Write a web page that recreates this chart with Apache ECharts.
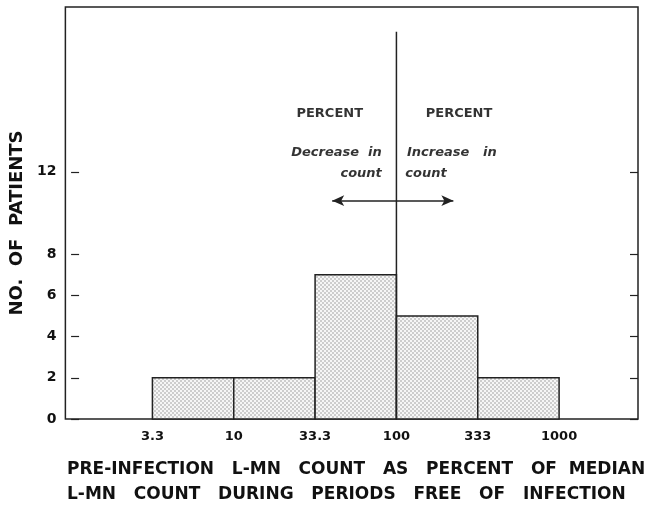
<!DOCTYPE html>
<html>
<head>
<meta charset="utf-8">
<script src="https://cdn.jsdelivr.net/npm/echarts@6/dist/echarts.min.js"></script>
<style>
  html, body { margin: 0; padding: 0; background: #fff; }
  #chart { width: 661px; height: 508px; }
</style>
</head>
<body>
<div id="chart"></div>
<script>
// bin edges on a log scale, shown as positions 1..6
const edgeLabels = ['3.3', '10', '33.3', '100', '333', '1000'];
const edgePos = [1, 2, 3, 4, 5, 6];
const counts = [2, 2, 7, 5, 2];
const yTicks = [0, 2, 4, 6, 8, 12];
// divider at the median (100) and the arrow across it
const divider = [[4, 0], [4, 18.8]];
const arrow = [[3.21, 10.6], [4.70, 10.6]];
const notes = [
  { x: 3.18, y: 14.8, text: 'PERCENT', align: 'center', italic: false },
  { x: 4.77, y: 14.8, text: 'PERCENT', align: 'center', italic: false },
  { x: 3.82, y: 12.95, text: 'Decrease  in', align: 'right', italic: true },
  { x: 3.82, y: 11.9, text: 'count', align: 'right', italic: true },
  { x: 4.13, y: 12.95, text: 'Increase   in', align: 'left', italic: true },
  { x: 4.11, y: 11.9, text: 'count', align: 'left', italic: true }
];

const bins = counts.map((c, i) => [edgePos[i], edgePos[i + 1], c]);

// dotted fill for the bars
const pat = document.createElement('canvas');
pat.width = 4; pat.height = 4;
const pc = pat.getContext('2d');
pc.fillStyle = '#f6f6f6';
pc.fillRect(0, 0, 4, 4);
pc.fillStyle = '#9a9a9a';
pc.beginPath(); pc.arc(1, 1, 0.8, 0, Math.PI * 2); pc.fill();
pc.beginPath(); pc.arc(3, 3, 0.8, 0, Math.PI * 2); pc.fill();

const chart = echarts.init(document.getElementById('chart'));
const font = 'DejaVu Sans';

chart.setOption({
  animation: false,
  grid: { left: 65, right: 23, top: 7, bottom: 89, show: true, borderColor: '#222', borderWidth: 1.5 },
  xAxis: {
    type: 'value', min: -0.07, max: 6.97,
    axisLine: { show: false },
    axisTick: { show: false },
    splitLine: { show: false },
    axisLabel: {
      customValues: edgePos,
      formatter: v => edgeLabels[edgePos.indexOf(v)],
      color: '#111', fontFamily: font, fontWeight: 'bold', fontSize: 13, margin: 11
    }
  },
  yAxis: [{
    type: 'value', min: 0, max: 20,
    name: 'NO.  OF  PATIENTS', nameLocation: 'middle', nameGap: 38,
    nameTextStyle: { color: '#111', fontFamily: font, fontWeight: 'bold', fontSize: 18, padding: [0, 20, 0, 0] },
    axisLine: { show: false },
    splitLine: { show: false },
    axisTick: { inside: true, length: 8, customValues: yTicks, lineStyle: { color: '#222', width: 1.2 } },
    axisLabel: { customValues: yTicks, color: '#111', fontFamily: font, fontWeight: 'bold', fontSize: 14, margin: 9 }
  }, {
    type: 'value', min: 0, max: 20, position: 'right',
    axisLine: { show: false },
    splitLine: { show: false },
    axisTick: { inside: true, length: 8, customValues: yTicks, lineStyle: { color: '#222', width: 1.2 } },
    axisLabel: { show: false }
  }],
  graphic: [{
    type: 'text', left: 67, top: 457,
    style: {
      text: 'PRE-INFECTION   L-MN   COUNT   AS   PERCENT   OF  MEDIAN\nL-MN   COUNT   DURING   PERIODS   FREE   OF   INFECTION',
      fill: '#111', font: 'bold 17px "DejaVu Sans"', lineHeight: 25
    }
  }],
  series: [{
    type: 'custom',
    data: bins,
    renderItem: (params, api) => {
      const p0 = api.coord([api.value(0), 0]);
      const p1 = api.coord([api.value(1), api.value(2)]);
      return {
        type: 'rect',
        shape: { x: p0[0], y: p1[1], width: p1[0] - p0[0], height: p0[1] - p1[1] },
        style: { fill: { image: pat, repeat: 'repeat' }, stroke: '#222', lineWidth: 1.5 }
      };
    },
    z: 2
  }, {
    type: 'line',
    data: divider,
    symbol: 'none',
    lineStyle: { color: '#222', width: 1.5 },
    z: 3,
    markLine: {
      silent: true,
      symbol: ['arrow', 'arrow'],
      symbolSize: [8, 12],
      label: { show: false },
      lineStyle: { color: '#222', width: 1.5, type: 'solid' },
      data: [[{ coord: arrow[0] }, { coord: arrow[1] }]]
    }
  }, {
    type: 'scatter',
    symbolSize: 0,
    data: notes.map(n => ({
      value: [n.x, n.y],
      label: {
        show: true, position: 'inside', formatter: n.text, align: n.align,
        color: '#000', fontFamily: font, fontSize: 13,
        fontStyle: n.italic ? 'italic' : 'normal', fontWeight: 'bold'
      }
    })),
    z: 4
  }]
});
</script>
</body>
</html>
